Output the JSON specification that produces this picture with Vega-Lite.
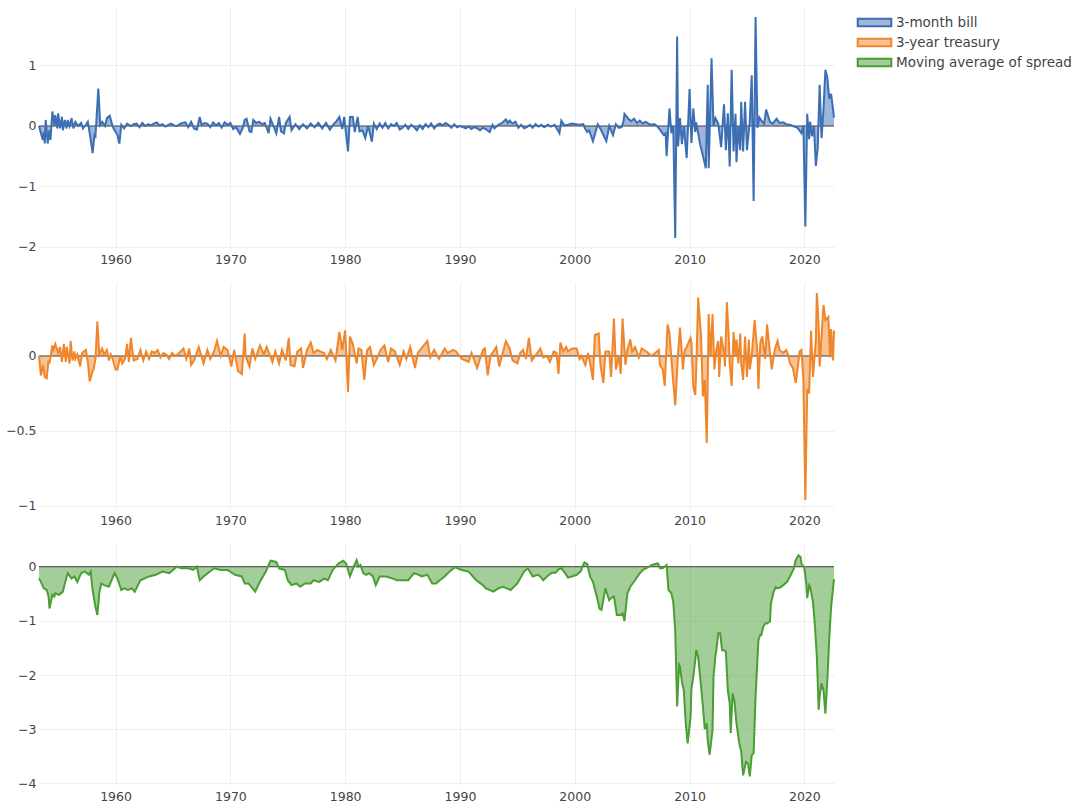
{
"$schema":"https://vega.github.io/schema/vega-lite/v6.json",
"padding":{"left":5,"top":7,"right":5,"bottom":5},
"spacing":14,
"config":{"font":"DejaVu Sans","view":{"stroke":null},
"axis":{"labelFont":"DejaVu Sans","labelFontSize":12.5,"labelColor":"#444","gridColor":"#eeeeee","domain":false,"ticks":false,"title":null}},
"datasets":{
"bill":[
{"date":"1953-05","value":0},{"date":"1953-07","value":-0.12},{"date":"1953-09","value":-0.23},{"date":"1953-10","value":-0.1},{"date":"1953-11","value":-0.29},{"date":"1953-12","value":0.1},{"date":"1954-02","value":-0.29},{"date":"1954-04","value":-0.07},{"date":"1954-05","value":-0.23},{"date":"1954-07","value":0.24},{"date":"1954-09","value":0.02},{"date":"1954-10","value":0.18},{"date":"1954-12","value":-0.04},{"date":"1955-01","value":0.21},{"date":"1955-03","value":-0.04},{"date":"1955-05","value":0.15},{"date":"1955-06","value":-0.07},{"date":"1955-08","value":0.1},{"date":"1955-10","value":-0.04},{"date":"1955-11","value":0.1},{"date":"1956-01","value":0},{"date":"1956-03","value":0.13},{"date":"1956-05","value":-0.04},{"date":"1956-07","value":0.07},{"date":"1956-10","value":0},{"date":"1957-01","value":0.05},{"date":"1957-03","value":-0.04},{"date":"1957-06","value":0.02},{"date":"1957-08","value":0.07},{"date":"1957-10","value":-0.12},{"date":"1958-01","value":-0.45},{"date":"1958-03","value":-0.15},{"date":"1958-04","value":-0.17},{"date":"1958-07","value":0.62},{"date":"1958-09","value":0.02},{"date":"1958-11","value":0.07},{"date":"1959-02","value":0},{"date":"1959-04","value":0.13},{"date":"1959-07","value":0.17},{"date":"1959-10","value":-0.01},{"date":"1959-12","value":-0.07},{"date":"1960-03","value":-0.15},{"date":"1960-05","value":-0.29},{"date":"1960-07","value":0.02},{"date":"1960-10","value":-0.04},{"date":"1961-01","value":0.04},{"date":"1961-05","value":0},{"date":"1961-08","value":0.03},{"date":"1961-11","value":0.04},
{"date":"1962-02","value":-0.02},{"date":"1962-05","value":0.05},{"date":"1962-08","value":0},{"date":"1962-11","value":0.03},{"date":"1963-02","value":0.01},{"date":"1963-05","value":0.04},{"date":"1963-08","value":0.06},{"date":"1963-11","value":0.01},{"date":"1964-02","value":0.03},{"date":"1964-05","value":-0.01},{"date":"1964-08","value":0.02},{"date":"1964-11","value":0.04},{"date":"1965-02","value":0.01},{"date":"1965-05","value":0},{"date":"1965-08","value":0.03},{"date":"1965-11","value":0.05},{"date":"1966-02","value":0.06},{"date":"1966-05","value":-0.02},{"date":"1966-08","value":0.07},{"date":"1966-11","value":-0.04},{"date":"1967-02","value":-0.06},{"date":"1967-05","value":0.15},{"date":"1967-07","value":0.02},{"date":"1967-10","value":0.05},{"date":"1968-01","value":0.04},{"date":"1968-04","value":-0.02},{"date":"1968-07","value":0.06},{"date":"1968-10","value":0.01},{"date":"1969-01","value":0.05},{"date":"1969-04","value":-0.03},{"date":"1969-07","value":0.06},{"date":"1969-10","value":0.02},{"date":"1970-01","value":0.05},{"date":"1970-04","value":-0.05},{"date":"1970-07","value":-0.02},{"date":"1970-09","value":-0.08},{"date":"1970-11","value":-0.13},{"date":"1971-02","value":-0.03},{"date":"1971-04","value":0.1},{"date":"1971-06","value":0.12},{"date":"1971-09","value":-0.09},{"date":"1971-11","value":-0.1},{"date":"1972-01","value":0.1},{"date":"1972-04","value":0.05},{"date":"1972-07","value":0.07},{"date":"1972-10","value":0.03},{"date":"1973-01","value":0.05},{"date":"1973-05","value":-0.12},{"date":"1973-07","value":0.12},{"date":"1974-01","value":-0.12},{"date":"1974-04","value":0.15},{"date":"1974-06","value":-0.09},{"date":"1974-09","value":-0.12},{"date":"1974-11","value":0.05},{"date":"1975-03","value":0.15},{"date":"1975-05","value":-0.07},{"date":"1975-09","value":0.03},{"date":"1976-01","value":-0.05},{"date":"1976-05","value":0.03},{"date":"1976-09","value":-0.04},{"date":"1977-01","value":0.04},{"date":"1977-05","value":-0.02},{"date":"1977-09","value":0.05},{"date":"1978-01","value":-0.04},{"date":"1978-05","value":0.05},{"date":"1978-09","value":-0.06},{"date":"1979-01","value":0.03},{"date":"1979-04","value":0.08},{"date":"1979-07","value":0.15},{"date":"1979-10","value":-0.05},{"date":"1979-12","value":0.15},{"date":"1980-04","value":-0.42},{"date":"1980-06","value":0.15},{"date":"1980-09","value":0.15},{"date":"1980-11","value":-0.1},{"date":"1981-02","value":0.15},{"date":"1981-04","value":-0.09},{"date":"1981-07","value":-0.07},{"date":"1981-10","value":-0.2},{"date":"1982-01","value":0},{"date":"1982-05","value":-0.26},{"date":"1982-07","value":0.04},{"date":"1982-10","value":-0.05},{"date":"1983-01","value":0.04},{"date":"1983-04","value":-0.03},{"date":"1983-07","value":0.05},{"date":"1983-10","value":-0.04},{"date":"1984-01","value":0.03},{"date":"1984-04","value":0},{"date":"1984-07","value":0.05},{"date":"1984-10","value":-0.06},{"date":"1985-01","value":-0.03},{"date":"1985-04","value":0.02},{"date":"1985-07","value":-0.05},{"date":"1985-10","value":0.02},{"date":"1986-01","value":-0.02},{"date":"1986-04","value":-0.07},{"date":"1986-07","value":0.01},{"date":"1986-10","value":-0.05},{"date":"1987-01","value":0.03},{"date":"1987-04","value":-0.02},{"date":"1987-07","value":0.04},{"date":"1987-10","value":-0.04},{"date":"1988-01","value":0.02},{"date":"1988-04","value":0.04},{"date":"1988-07","value":0.01},{"date":"1988-10","value":0.05},{"date":"1989-01","value":0.02},{"date":"1989-04","value":-0.03},{"date":"1989-07","value":0.03},{"date":"1989-10","value":-0.02},{"date":"1990-01","value":0},{"date":"1990-04","value":-0.02},{"date":"1990-07","value":-0.04},{"date":"1990-10","value":-0.01},{"date":"1991-01","value":-0.05},{"date":"1991-04","value":-0.02},{"date":"1991-07","value":-0.04},{"date":"1991-10","value":-0.07},{"date":"1992-01","value":-0.03},{"date":"1992-04","value":-0.05},{"date":"1992-08","value":-0.1},{"date":"1992-11","value":0.02},{"date":"1993-01","value":-0.04},{"date":"1993-05","value":0.02},{"date":"1993-09","value":0.05},{"date":"1994-01","value":0.11},{"date":"1994-03","value":0.05},{"date":"1994-05","value":0.09},{"date":"1994-08","value":0.04},{"date":"1994-11","value":0.07},{"date":"1995-02","value":-0.03},{"date":"1995-05","value":0.02},{"date":"1995-08","value":-0.04},{"date":"1995-11","value":-0.02},{"date":"1996-02","value":0.02},{"date":"1996-05","value":-0.03},{"date":"1996-08","value":0.03},{"date":"1996-11","value":-0.01},{"date":"1997-02","value":0.02},{"date":"1997-05","value":-0.02},{"date":"1997-09","value":0.02},{"date":"1997-12","value":-0.01},{"date":"1998-04","value":0.02},{"date":"1998-09","value":-0.12},{"date":"1998-11","value":0.09},{"date":"1999-02","value":0.01},{"date":"1999-06","value":0.02},{"date":"1999-10","value":0.04},{"date":"2000-02","value":0.03},{"date":"2000-06","value":0.02},{"date":"2000-10","value":0.03},{"date":"2000-12","value":-0.05},{"date":"2001-02","value":-0.1},{"date":"2001-04","value":-0.07},{"date":"2001-08","value":-0.25},{"date":"2002-01","value":0.03},{"date":"2002-04","value":-0.05},{"date":"2002-10","value":-0.25},{"date":"2003-01","value":0},{"date":"2003-05","value":-0.15},{"date":"2003-08","value":0.03},{"date":"2003-11","value":-0.03},{"date":"2004-02","value":-0.02},{"date":"2004-04","value":0.08},{"date":"2004-05","value":0.2},{"date":"2004-09","value":0.12},{"date":"2004-12","value":0.08},{"date":"2005-03","value":0.12},{"date":"2005-06","value":0.05},{"date":"2005-09","value":0.09},{"date":"2005-12","value":0.04},{"date":"2006-03","value":0.07},{"date":"2006-06","value":0.04},{"date":"2006-09","value":0.02},{"date":"2006-12","value":0.03},{"date":"2007-03","value":0},{"date":"2007-07","value":-0.08},{"date":"2007-10","value":-0.15},{"date":"2007-12","value":-0.12},
{"date":"2008-01","value":-0.5},{"date":"2008-04","value":0.29},{"date":"2008-06","value":-0.12},{"date":"2008-08","value":0},{"date":"2008-10","value":-1.85},{"date":"2008-12","value":1.48},{"date":"2009-01","value":-0.34},{"date":"2009-03","value":0.13},{"date":"2009-05","value":-0.3},{"date":"2009-07","value":0},{"date":"2009-10","value":-0.53},{"date":"2010-01","value":0.61},{"date":"2010-03","value":-0.28},{"date":"2010-05","value":0.29},{"date":"2010-07","value":-0.1},{"date":"2010-08","value":0.06},{"date":"2010-12","value":-0.3},{"date":"2011-03","value":-0.49},{"date":"2011-06","value":-0.7},{"date":"2011-08","value":0.68},{"date":"2011-09","value":-0.7},{"date":"2011-12","value":1.12},{"date":"2012-02","value":0},{"date":"2012-04","value":0.13},{"date":"2012-07","value":0.04},{"date":"2012-10","value":-0.35},{"date":"2013-01","value":0.36},{"date":"2013-03","value":-0.4},{"date":"2013-05","value":0.21},{"date":"2013-07","value":-0.67},{"date":"2013-09","value":0.93},{"date":"2013-11","value":-0.42},{"date":"2014-01","value":0.2},{"date":"2014-02","value":-0.6},{"date":"2014-04","value":0},{"date":"2014-06","value":-0.4},{"date":"2014-07","value":0.4},{"date":"2014-09","value":-0.42},{"date":"2014-11","value":0.4},{"date":"2015-01","value":-0.4},{"date":"2015-04","value":0.09},{"date":"2015-06","value":0.84},{"date":"2015-08","value":-1.24},{"date":"2015-10","value":1.8},{"date":"2015-12","value":-0.03},{"date":"2016-02","value":0.14},{"date":"2016-04","value":0.09},{"date":"2016-07","value":0.04},{"date":"2016-09","value":0.27},{"date":"2017-01","value":0.07},{"date":"2017-04","value":0.04},{"date":"2017-08","value":0.12},{"date":"2017-11","value":0.05},{"date":"2018-03","value":0.06},{"date":"2018-06","value":0.03},{"date":"2018-10","value":0.02},{"date":"2019-01","value":0},{"date":"2019-06","value":-0.03},{"date":"2019-10","value":-0.12},{"date":"2019-12","value":0.01},{"date":"2020-02","value":-1.66},{"date":"2020-04","value":0.2},{"date":"2020-06","value":-0.22},{"date":"2020-07","value":0.07},{"date":"2020-09","value":-0.17},{"date":"2020-11","value":0},{"date":"2021-01","value":-0.66},{"date":"2021-03","value":-0.36},{"date":"2021-05","value":0.68},{"date":"2021-07","value":-0.2},{"date":"2021-09","value":0.28},{"date":"2021-11","value":0.93},{"date":"2022-01","value":0.8},{"date":"2022-03","value":0.45},{"date":"2022-05","value":0.53},{"date":"2022-07","value":0.28},{"date":"2022-08","value":0.14}
],
"treasury":[
{"date":"1953-05","value":0},{"date":"1953-07","value":-0.13},{"date":"1953-09","value":-0.06},{"date":"1953-11","value":-0.14},{"date":"1954-01","value":-0.15},{"date":"1954-03","value":-0.03},{"date":"1954-04","value":-0.05},{"date":"1954-07","value":0.07},{"date":"1954-08","value":0.04},{"date":"1954-10","value":0.08},{"date":"1955-01","value":0.02},{"date":"1955-03","value":0.06},{"date":"1955-05","value":-0.04},{"date":"1955-07","value":0.08},{"date":"1955-09","value":-0.04},{"date":"1955-10","value":0.06},{"date":"1956-01","value":-0.05},{"date":"1956-02","value":0.1},{"date":"1956-04","value":-0.03},{"date":"1956-06","value":0.03},{"date":"1956-07","value":-0.02},{"date":"1956-09","value":0.01},{"date":"1956-12","value":-0.07},{"date":"1957-02","value":0.02},{"date":"1957-06","value":0.04},{"date":"1957-08","value":-0.04},{"date":"1957-10","value":-0.17},{"date":"1958-01","value":-0.1},{"date":"1958-02","value":-0.09},{"date":"1958-04","value":-0.02},{"date":"1958-06","value":0.23},{"date":"1958-08","value":0.01},{"date":"1958-11","value":0.05},{"date":"1959-01","value":0.01},{"date":"1959-04","value":0.04},{"date":"1959-06","value":-0.03},{"date":"1959-08","value":0.01},{"date":"1959-10","value":-0.02},{"date":"1960-01","value":-0.09},{"date":"1960-03","value":-0.09},{"date":"1960-06","value":0},{"date":"1960-08","value":-0.05},{"date":"1960-11","value":-0.02},{"date":"1961-01","value":0.08},{"date":"1961-03","value":-0.04},{"date":"1961-05","value":0.12},{"date":"1961-08","value":-0.03},{"date":"1961-12","value":-0.02},{"date":"1962-03","value":0.04},{"date":"1962-06","value":-0.03},{"date":"1962-09","value":0.03},{"date":"1962-12","value":-0.02},{"date":"1963-03","value":0.03},{"date":"1963-06","value":0.02},{"date":"1963-09","value":0.04},{"date":"1963-12","value":-0.01},{"date":"1964-03","value":0.02},{"date":"1964-06","value":0.01},{"date":"1964-09","value":-0.02},{"date":"1964-12","value":0.02},{"date":"1965-03","value":0},{"date":"1965-06","value":0.01},{"date":"1965-09","value":0.03},{"date":"1965-12","value":0.05},{"date":"1966-03","value":-0.02},{"date":"1966-06","value":0.05},{"date":"1966-08","value":-0.06},{"date":"1966-11","value":-0.03},{"date":"1967-04","value":0.06},{"date":"1967-09","value":-0.05},{"date":"1968-01","value":0.04},{"date":"1968-04","value":-0.02},{"date":"1968-08","value":0.03},{"date":"1968-11","value":0.1},{"date":"1969-03","value":0},{"date":"1969-06","value":0.06},{"date":"1969-10","value":0.04},{"date":"1970-02","value":-0.07},{"date":"1970-05","value":0.04},{"date":"1970-09","value":-0.1},{"date":"1971-01","value":-0.12},{"date":"1971-04","value":0.15},{"date":"1971-05","value":0},{"date":"1971-09","value":-0.07},{"date":"1971-12","value":0.05},{"date":"1972-03","value":-0.02},{"date":"1972-08","value":0.07},{"date":"1972-12","value":0.01},{"date":"1973-03","value":0.06},{"date":"1973-09","value":-0.04},{"date":"1973-12","value":0.03},{"date":"1974-04","value":-0.05},{"date":"1974-07","value":0.04},{"date":"1974-11","value":-0.03},{"date":"1975-02","value":0.12},{"date":"1975-04","value":-0.06},{"date":"1975-08","value":-0.07},{"date":"1975-11","value":0.03},{"date":"1976-03","value":0.05},{"date":"1976-05","value":-0.08},{"date":"1976-09","value":0.04},{"date":"1977-01","value":0.09},{"date":"1977-04","value":0.02},{"date":"1977-08","value":0.04},{"date":"1977-11","value":0.03},{"date":"1978-03","value":0.02},{"date":"1978-06","value":-0.02},{"date":"1978-10","value":0.04},{"date":"1979-03","value":-0.03},{"date":"1979-07","value":0.16},{"date":"1979-10","value":0.04},{"date":"1980-01","value":0.17},{"date":"1980-04","value":-0.24},{"date":"1980-06","value":0.13},{"date":"1980-09","value":0.08},{"date":"1981-01","value":-0.05},{"date":"1981-03","value":0.05},{"date":"1981-06","value":0.04},{"date":"1981-09","value":-0.16},{"date":"1981-12","value":0.04},{"date":"1982-03","value":0.06},{"date":"1982-07","value":-0.06},{"date":"1982-10","value":-0.02},{"date":"1983-02","value":0.04},{"date":"1983-06","value":0.07},{"date":"1983-10","value":-0.04},{"date":"1984-01","value":0.05},{"date":"1984-05","value":0.03},{"date":"1984-10","value":-0.06},{"date":"1985-02","value":0.03},{"date":"1985-05","value":-0.02},{"date":"1985-09","value":0.06},{"date":"1986-02","value":-0.08},{"date":"1986-05","value":0.02},{"date":"1986-10","value":0.06},{"date":"1987-03","value":0.1},{"date":"1987-06","value":-0.01},{"date":"1987-10","value":0.04},{"date":"1988-03","value":-0.02},{"date":"1988-09","value":0.05},{"date":"1988-12","value":0.02},{"date":"1989-06","value":0.04},{"date":"1989-09","value":0.03},{"date":"1990-03","value":-0.02},{"date":"1990-10","value":-0.04},{"date":"1991-01","value":0.02},{"date":"1991-07","value":-0.08},{"date":"1992-01","value":0.04},{"date":"1992-03","value":0.05},{"date":"1992-06","value":-0.13},{"date":"1992-09","value":0},{"date":"1993-03","value":0.06},{"date":"1993-06","value":-0.07},{"date":"1994-01","value":0.1},{"date":"1994-05","value":0.05},{"date":"1994-08","value":-0.03},{"date":"1995-01","value":-0.05},{"date":"1995-04","value":0.02},{"date":"1995-07","value":0.04},{"date":"1995-10","value":-0.02},{"date":"1996-01","value":0.12},{"date":"1996-04","value":-0.03},{"date":"1996-10","value":0.02},
{"date":"1997-01","value":0.05},{"date":"1997-04","value":-0.01},{"date":"1997-08","value":0},{"date":"1997-11","value":-0.04},{"date":"1998-03","value":0.03},{"date":"1998-06","value":0.02},{"date":"1998-08","value":-0.12},{"date":"1998-10","value":0.09},{"date":"1999-01","value":0.03},{"date":"1999-04","value":0.06},{"date":"1999-06","value":0.03},{"date":"1999-10","value":0.05},{"date":"2000-03","value":0.05},{"date":"2000-06","value":-0.02},{"date":"2000-08","value":0},{"date":"2000-12","value":-0.06},{"date":"2001-03","value":0.02},{"date":"2001-06","value":-0.08},{"date":"2001-08","value":-0.16},{"date":"2001-10","value":0.14},{"date":"2002-02","value":0.15},{"date":"2002-04","value":-0.07},{"date":"2002-07","value":-0.18},{"date":"2002-09","value":0.03},{"date":"2003-01","value":0.03},{"date":"2003-03","value":-0.14},{"date":"2003-06","value":0.25},{"date":"2003-08","value":-0.09},{"date":"2003-11","value":0},{"date":"2004-01","value":-0.12},{"date":"2004-03","value":0.25},{"date":"2004-06","value":-0.06},{"date":"2004-08","value":0.04},{"date":"2004-11","value":0.11},{"date":"2005-01","value":0.03},{"date":"2005-04","value":0.06},{"date":"2005-08","value":-0.01},{"date":"2005-11","value":0.05},{"date":"2006-04","value":0.03},{"date":"2006-09","value":0},{"date":"2007-01","value":0.02},{"date":"2007-05","value":0.04},{"date":"2007-06","value":-0.06},{"date":"2007-09","value":-0.09},{"date":"2007-11","value":-0.2},{"date":"2008-02","value":0.21},{"date":"2008-04","value":0.15},{"date":"2008-07","value":-0.1},{"date":"2008-10","value":-0.33},{"date":"2009-01","value":0.02},{"date":"2009-03","value":0.19},{"date":"2009-05","value":0.02},{"date":"2009-06","value":-0.09},{"date":"2009-08","value":0.04},{"date":"2009-10","value":0.06},{"date":"2010-02","value":0.12},{"date":"2010-03","value":0.09},{"date":"2010-05","value":-0.21},{"date":"2010-07","value":-0.26},{"date":"2010-08","value":-0.09},{"date":"2010-10","value":0.39},{"date":"2011-01","value":0.13},{"date":"2011-03","value":-0.27},{"date":"2011-05","value":-0.16},{"date":"2011-07","value":-0.58},{"date":"2011-08","value":-0.19},{"date":"2011-09","value":0.28},{"date":"2011-11","value":0},{"date":"2012-01","value":0.28},{"date":"2012-03","value":-0.09},{"date":"2012-05","value":0.04},{"date":"2012-07","value":0.1},{"date":"2012-08","value":-0.14},{"date":"2012-10","value":0.13},{"date":"2013-01","value":0.02},{"date":"2013-02","value":-0.07},{"date":"2013-04","value":0.36},{"date":"2013-06","value":0.13},{"date":"2013-07","value":-0.05},{"date":"2013-09","value":-0.2},{"date":"2013-11","value":0.16},{"date":"2014-01","value":0},{"date":"2014-02","value":0.11},{"date":"2014-04","value":-0.05},{"date":"2014-06","value":0.15},{"date":"2014-07","value":-0.05},{"date":"2014-09","value":-0.16},{"date":"2014-11","value":0.13},{"date":"2015-01","value":-0.14},{"date":"2015-03","value":0.11},{"date":"2015-04","value":-0.09},{"date":"2015-06","value":0},{"date":"2015-09","value":0.24},{"date":"2015-12","value":0.02},{"date":"2016-01","value":-0.22},{"date":"2016-03","value":0.09},{"date":"2016-05","value":0.13},{"date":"2016-08","value":-0.02},{"date":"2016-10","value":0.21},{"date":"2017-01","value":0.02},{"date":"2017-03","value":-0.09},{"date":"2017-06","value":0.04},{"date":"2017-09","value":0.1},{"date":"2017-11","value":0.04},{"date":"2018-03","value":0.02},{"date":"2018-06","value":0.04},{"date":"2018-08","value":0.01},{"date":"2018-10","value":-0.05},{"date":"2019-01","value":-0.08},{"date":"2019-04","value":-0.18},{"date":"2019-05","value":-0.14},{"date":"2019-08","value":0.03},{"date":"2019-10","value":0.04},{"date":"2019-12","value":-0.16},{"date":"2020-02","value":-0.96},{"date":"2020-04","value":-0.22},{"date":"2020-06","value":-0.25},{"date":"2020-08","value":0.17},{"date":"2020-10","value":-0.14},{"date":"2021-01","value":0.11},{"date":"2021-02","value":0.42},{"date":"2021-04","value":0.2},{"date":"2021-05","value":-0.07},{"date":"2021-07","value":0.13},{"date":"2021-09","value":0.34},{"date":"2021-11","value":0.24},{"date":"2022-02","value":0.26},{"date":"2022-04","value":-0.01},{"date":"2022-05","value":0.18},{"date":"2022-07","value":-0.03},{"date":"2022-08","value":0.17}
],
"spread":[
{"date":"1953-05","value":-0.22},{"date":"1953-07","value":-0.28},{"date":"1953-10","value":-0.4},{"date":"1954-01","value":-0.43},{"date":"1954-03","value":-0.55},{"date":"1954-04","value":-0.77},{"date":"1954-07","value":-0.52},{"date":"1954-09","value":-0.55},{"date":"1954-10","value":-0.49},{"date":"1955-02","value":-0.52},{"date":"1955-06","value":-0.46},{"date":"1955-08","value":-0.31},{"date":"1955-11","value":-0.12},{"date":"1956-03","value":-0.22},{"date":"1956-06","value":-0.18},{"date":"1956-09","value":-0.28},{"date":"1957-01","value":-0.12},{"date":"1957-05","value":-0.09},{"date":"1957-09","value":-0.15},{"date":"1957-11","value":-0.09},{"date":"1958-01","value":-0.43},{"date":"1958-04","value":-0.74},{"date":"1958-06","value":-0.89},{"date":"1958-08","value":-0.49},{"date":"1958-10","value":-0.31},{"date":"1959-01","value":-0.34},{"date":"1959-06","value":-0.37},{"date":"1959-12","value":-0.12},{"date":"1960-03","value":-0.22},{"date":"1960-07","value":-0.43},{"date":"1960-10","value":-0.4},{"date":"1961-02","value":-0.43},{"date":"1961-06","value":-0.4},{"date":"1961-09","value":-0.46},{"date":"1962-03","value":-0.25},{"date":"1962-12","value":-0.18},{"date":"1963-07","value":-0.15},{"date":"1964-02","value":-0.09},{"date":"1964-09","value":-0.12},{"date":"1965-01","value":-0.06},{"date":"1965-05","value":0},{"date":"1965-10","value":-0.03},{"date":"1966-05","value":-0.03},{"date":"1966-10","value":-0.06},{"date":"1967-02","value":0},{"date":"1967-05","value":-0.25},{"date":"1967-09","value":-0.18},{"date":"1968-08","value":-0.03},{"date":"1969-03","value":-0.06},{"date":"1969-10","value":-0.06},{"date":"1970-06","value":-0.15},{"date":"1971-01","value":-0.18},{"date":"1971-04","value":-0.31},{"date":"1971-08","value":-0.31},{"date":"1972-03","value":-0.46},{"date":"1972-07","value":-0.31},{"date":"1973-02","value":-0.09},{"date":"1973-07","value":0.11},{"date":"1974-01","value":0.09},{"date":"1974-04","value":-0.03},{"date":"1974-10","value":-0.06},{"date":"1975-01","value":-0.25},{"date":"1975-05","value":-0.34},{"date":"1975-10","value":-0.31},{"date":"1976-02","value":-0.37},{"date":"1976-07","value":-0.31},{"date":"1977-01","value":-0.31},{"date":"1977-04","value":-0.25},{"date":"1977-10","value":-0.28},{"date":"1978-03","value":-0.22},{"date":"1978-07","value":-0.25},{"date":"1978-12","value":-0.06},{"date":"1979-06","value":0.06},{"date":"1979-11","value":0.11},{"date":"1980-02","value":0.06},{"date":"1980-06","value":-0.18},{"date":"1980-10","value":0},{"date":"1981-01","value":0.12},{"date":"1981-03","value":0},{"date":"1981-05","value":0.03},{"date":"1981-08","value":-0.12},{"date":"1981-11","value":-0.15},{"date":"1982-02","value":-0.12},{"date":"1982-06","value":-0.18},{"date":"1982-09","value":-0.34},{"date":"1983-01","value":-0.18},{"date":"1983-08","value":-0.18},{"date":"1984-03","value":-0.22},{"date":"1984-07","value":-0.25},{"date":"1985-02","value":-0.25},{"date":"1985-07","value":-0.25},{"date":"1986-01","value":-0.12},{"date":"1986-06","value":-0.15},{"date":"1986-09","value":-0.18},{"date":"1987-03","value":-0.15},{"date":"1987-08","value":-0.31},{"date":"1987-12","value":-0.31},{"date":"1988-04","value":-0.25},{"date":"1988-09","value":-0.18},{"date":"1989-02","value":-0.09},{"date":"1989-08","value":-0.01},{"date":"1990-03","value":-0.06},{"date":"1990-10","value":-0.09},{"date":"1991-06","value":-0.25},{"date":"1992-01","value":-0.34},{"date":"1992-04","value":-0.4},{"date":"1992-12","value":-0.46},{"date":"1993-05","value":-0.4},{"date":"1993-10","value":-0.37},{"date":"1994-06","value":-0.43},{"date":"1995-01","value":-0.31},{"date":"1995-08","value":-0.09},{"date":"1995-12","value":-0.03},{"date":"1996-05","value":-0.18},{"date":"1996-10","value":-0.15},{"date":"1997-01","value":-0.18},{"date":"1997-04","value":-0.25},{"date":"1997-08","value":-0.18},{"date":"1998-01","value":-0.11},{"date":"1998-05","value":-0.11},{"date":"1998-08","value":-0.05},{"date":"1998-11","value":-0.03},{"date":"1999-03","value":-0.12},{"date":"1999-06","value":-0.2},{"date":"1999-10","value":-0.18},{"date":"2000-03","value":-0.15},{"date":"2000-07","value":-0.09},{"date":"2000-11","value":0.08},{"date":"2001-02","value":0.05},{"date":"2001-05","value":-0.18},{"date":"2001-08","value":-0.28},{"date":"2001-12","value":-0.55},{"date":"2002-03","value":-0.78},{"date":"2002-05","value":-0.8},{"date":"2002-09","value":-0.4},{"date":"2003-01","value":-0.62},{"date":"2003-03","value":-0.58},{"date":"2003-06","value":-0.55},{"date":"2003-09","value":-0.89},{"date":"2004-01","value":-0.89},{"date":"2004-03","value":-0.86},{"date":"2004-05","value":-1.0},{"date":"2004-08","value":-0.49},{"date":"2004-11","value":-0.37},{"date":"2005-04","value":-0.25},{"date":"2005-09","value":-0.12},{"date":"2006-01","value":-0.05},{"date":"2006-06","value":-0.01},{"date":"2006-09","value":0.03},{"date":"2007-01","value":0.05},{"date":"2007-04","value":0.06},{"date":"2007-06","value":-0.03},{"date":"2007-09","value":-0.03},{"date":"2008-01","value":0.03},{"date":"2008-03","value":-0.43},{"date":"2008-06","value":-0.49},{"date":"2008-08","value":-0.65},{"date":"2008-10","value":-1.17},{"date":"2008-12","value":-2.58},{"date":"2009-02","value":-1.81},{"date":"2009-03","value":-1.84},{"date":"2009-05","value":-2.12},{"date":"2009-07","value":-2.28},{"date":"2009-09","value":-2.89},{"date":"2009-11","value":-3.26},{"date":"2010-02","value":-2.77},{"date":"2010-03","value":-2.25},{"date":"2010-05","value":-2.03},{"date":"2010-07","value":-1.72},{"date":"2010-08","value":-1.54},{"date":"2010-10","value":-1.66},{"date":"2011-01","value":-2.21},{"date":"2011-03","value":-2.58},{"date":"2011-05","value":-3.0},{"date":"2011-07","value":-2.89},{"date":"2011-08","value":-3.2},{"date":"2011-10","value":-3.47},{"date":"2012-01","value":-3.01},{"date":"2012-02","value":-2.03},{"date":"2012-04","value":-1.65},{"date":"2012-05","value":-1.54},{"date":"2012-07","value":-1.23},{"date":"2012-09","value":-1.23},{"date":"2012-11","value":-1.54},{"date":"2013-01","value":-1.54},{"date":"2013-03","value":-1.57},{"date":"2013-05","value":-2.28},{"date":"2013-07","value":-2.52},{"date":"2013-08","value":-3.07},{"date":"2013-10","value":-2.34},{"date":"2013-12","value":-2.49},{"date":"2014-02","value":-2.89},{"date":"2014-05","value":-3.26},{"date":"2014-07","value":-3.41},{"date":"2014-09","value":-3.85},{"date":"2014-12","value":-3.6},{"date":"2015-02","value":-3.63},{"date":"2015-04","value":-3.87},{"date":"2015-06","value":-3.48},{"date":"2015-08","value":-3.44},{"date":"2015-10","value":-2.4},{"date":"2016-01","value":-1.35},{"date":"2016-03","value":-1.26},{"date":"2016-04","value":-1.26},{"date":"2016-06","value":-1.11},{"date":"2016-08","value":-1.05},{"date":"2016-10","value":-1.05},{"date":"2017-01","value":-1.01},{"date":"2017-02","value":-0.68},{"date":"2017-05","value":-0.46},{"date":"2017-07","value":-0.38},{"date":"2017-09","value":-0.4},{"date":"2017-12","value":-0.38},{"date":"2018-03","value":-0.34},{"date":"2018-07","value":-0.28},{"date":"2018-10","value":-0.18},{"date":"2019-02","value":-0.03},{"date":"2019-04","value":0.12},{"date":"2019-07","value":0.21},{"date":"2019-09","value":0.18},{"date":"2019-10","value":0.06},{"date":"2020-01","value":-0.03},{"date":"2020-03","value":-0.31},{"date":"2020-04","value":-0.58},{"date":"2020-06","value":-0.34},{"date":"2020-07","value":-0.37},{"date":"2020-10","value":-0.65},{"date":"2020-12","value":-1.08},{"date":"2021-02","value":-1.66},{"date":"2021-04","value":-2.64},{"date":"2021-05","value":-2.4},{"date":"2021-07","value":-2.15},{"date":"2021-09","value":-2.28},{"date":"2021-11","value":-2.71},{"date":"2022-01","value":-2.09},{"date":"2022-03","value":-1.35},{"date":"2022-05","value":-0.74},{"date":"2022-08","value":-0.23}
]
},
"vconcat":[
{"width":795,"height":241,
"layer":[
{"data":{"name":"bill"},"mark":{"type":"area","fillOpacity":0.5},
"encoding":{"x":{"field":"date","type":"temporal","scale":{"type":"utc","domain":[{"year":1953,"month":5,"date":1,"utc":true},{"year":2022,"month":8,"date":1,"utc":true}]},"axis":{"values":[{"year":1960,"utc":true},{"year":1970,"utc":true},{"year":1980,"utc":true},{"year":1990,"utc":true},{"year":2000,"utc":true},{"year":2010,"utc":true},{"year":2020,"utc":true}],"format":"%Y","labelPadding":5,"minExtent":20,"maxExtent":20,"grid":true}},
"y":{"field":"value","type":"quantitative","scale":{"domain":[-2.017,1.967],"nice":false,"zero":false},"axis":{"values":[-2,-1,0,1],"format":"~g","labelPadding":3,"minExtent":33,"maxExtent":33}},
"y2":{"datum":0},
"color":{"datum":"3-month bill","type":"nominal","scale":{"domain":["3-month bill","3-year treasury","Moving average of spread"],"range":["#3c6eb4","#f0862a","#4a9e33"]},"legend":{"orient":"right","offset":21,"padding":4,"title":null,"symbolType":"M-1.6,-0.35H1.6V0.35H-1.6Z","symbolSize":441,"symbolStrokeWidth":2,"symbolOpacity":1,"labelFont":"DejaVu Sans","labelFontSize":13.5,"labelColor":"#444","labelOffset":10,"rowPadding":0,"labelLimit":300,"encode":{"symbols":{"update":{"fill":{"scale":"color","field":"value"},"fillOpacity":{"value":0.5},"stroke":{"scale":"color","field":"value"},"strokeWidth":{"value":2},"opacity":{"value":1}}}}}}}},
{"data":{"values":[{}]},"mark":{"type":"rule","color":"#444","strokeWidth":1},"encoding":{"y":{"datum":0}}},
{"data":{"name":"bill"},"mark":{"type":"line","strokeWidth":2},
"encoding":{"x":{"field":"date","type":"temporal"},"y":{"field":"value","type":"quantitative"},"color":{"datum":"3-month bill","type":"nominal"}}}
]},
{"width":795,"height":227,
"layer":[
{"data":{"name":"treasury"},"mark":{"type":"area","fillOpacity":0.5},
"encoding":{"x":{"field":"date","type":"temporal","scale":{"type":"utc","domain":[{"year":1953,"month":5,"date":1,"utc":true},{"year":2022,"month":8,"date":1,"utc":true}]},"axis":{"values":[{"year":1960,"utc":true},{"year":1970,"utc":true},{"year":1980,"utc":true},{"year":1990,"utc":true},{"year":2000,"utc":true},{"year":2010,"utc":true},{"year":2020,"utc":true}],"format":"%Y","labelPadding":5,"minExtent":20,"maxExtent":20,"grid":true}},
"y":{"field":"value","type":"quantitative","scale":{"domain":[-1.02,0.493],"nice":false,"zero":false},"axis":{"values":[-1,-0.5,0],"format":"~g","labelPadding":3,"minExtent":33,"maxExtent":33}},
"y2":{"datum":0},
"color":{"datum":"3-year treasury","type":"nominal"}}},
{"data":{"values":[{}]},"mark":{"type":"rule","color":"#444","strokeWidth":1},"encoding":{"y":{"datum":0}}},
{"data":{"name":"treasury"},"mark":{"type":"line","strokeWidth":2},
"encoding":{"x":{"field":"date","type":"temporal"},"y":{"field":"value","type":"quantitative"},"color":{"datum":"3-year treasury","type":"nominal"}}}
]},
{"width":795,"height":242,
"layer":[
{"data":{"name":"spread"},"mark":{"type":"area","fillOpacity":0.5},
"encoding":{"x":{"field":"date","type":"temporal","scale":{"type":"utc","domain":[{"year":1953,"month":5,"date":1,"utc":true},{"year":2022,"month":8,"date":1,"utc":true}]},"axis":{"values":[{"year":1960,"utc":true},{"year":1970,"utc":true},{"year":1980,"utc":true},{"year":1990,"utc":true},{"year":2000,"utc":true},{"year":2010,"utc":true},{"year":2020,"utc":true}],"format":"%Y","labelPadding":5,"minExtent":20,"maxExtent":20,"grid":true}},
"y":{"field":"value","type":"quantitative","scale":{"domain":[-4.028,0.437],"nice":false,"zero":false},"axis":{"values":[-4,-3,-2,-1,0],"format":"~g","labelPadding":3,"minExtent":33,"maxExtent":33}},
"y2":{"datum":0},
"color":{"datum":"Moving average of spread","type":"nominal"}}},
{"data":{"values":[{}]},"mark":{"type":"rule","color":"#444","strokeWidth":1},"encoding":{"y":{"datum":0}}},
{"data":{"name":"spread"},"mark":{"type":"line","strokeWidth":2},
"encoding":{"x":{"field":"date","type":"temporal"},"y":{"field":"value","type":"quantitative"},"color":{"datum":"Moving average of spread","type":"nominal"}}}
]}
]
}
